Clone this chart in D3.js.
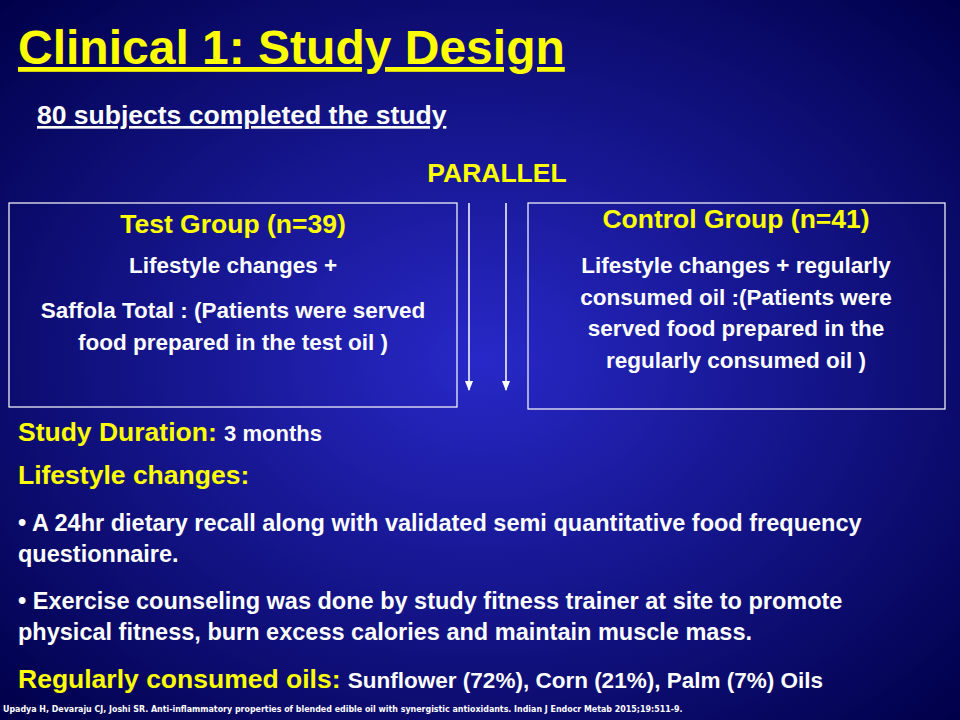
<!DOCTYPE html><html><head><meta charset="utf-8">
<script src="https://cdn.jsdelivr.net/npm/d3@7"></script>
<style>body{margin:0}svg{display:block}</style></head><body>
<script>
const title = "Clinical 1: Study Design";
const subtitle = "80 subjects completed the study";
const groups = [
  {name:"Test Group (n=39)", lines:[["Lifestyle changes +"],["Saffola Total : (Patients were served","food prepared in the test oil )"]]},
  {name:"Control Group (n=41)", lines:[["Lifestyle changes + regularly","consumed oil :(Patients were","served food prepared in the","regularly consumed oil )"]]}
];
const bullets = [
  ["A 24hr dietary recall along with validated semi quantitative food frequency","questionnaire."],
  ["Exercise counseling was done by study fitness trainer at site to promote","physical fitness, burn excess calories and maintain muscle mass."]
];
const citation = "Upadya H, Devaraju CJ, Joshi SR. Anti-inflammatory properties of blended edible oil with synergistic antioxidants. Indian J Endocr Metab 2015;19:511-9.";

const W=960,H=720,F="Arial, 'Liberation Sans', sans-serif";
const svg=d3.select("body").append("svg").attr("width",W).attr("height",H);
const defs=svg.append("defs");
const g=defs.append("radialGradient").attr("id","bg").attr("cx","50%").attr("cy","50%").attr("r","70%");
g.append("stop").attr("offset","0%").attr("stop-color","#2828c8");
g.append("stop").attr("offset","100%").attr("stop-color","#00004a");
const m=defs.append("marker").attr("id","ah").attr("viewBox","0 0 10 10").attr("refX",9).attr("refY",5)
 .attr("markerWidth",7).attr("markerHeight",7).attr("orient","auto");
m.append("path").attr("d","M0,1L10,5L0,9Z").attr("fill","#fff");
svg.append("rect").attr("width",W).attr("height",H).attr("fill","url(#bg)");
function t(x,y,s,size,col,opt={}){
  const e=svg.append("text").attr("x",x).attr("y",y).text(s).attr("font-family",F).attr("font-size",size)
   .attr("font-weight","bold").attr("fill",col).attr("text-anchor",opt.a||"start");
  if(opt.u)e.attr("text-decoration","underline");return e;}
const HS=26.5, BS=23.5;
t(18,64,title,48,"#ffff00",{u:1});
t(37,124,subtitle,26.5,"#fff",{u:1});
t(497,182,"PARALLEL",26.5,"#ffff00",{a:"middle"});
const boxes=[{x:9,y:203,w:448,h:204,cx:233,ty:233,ly:[273,318]},{x:528,y:203,w:417,h:206,cx:736,ty:228,ly:[273]}];
boxes.forEach((b,i)=>{
  svg.append("rect").attr("x",b.x).attr("y",b.y).attr("width",b.w).attr("height",b.h).attr("fill","none").attr("stroke","#fff").attr("stroke-width",1.2);
  t(b.cx,b.ty,groups[i].name,HS,"#ffff00",{a:"middle"});
  groups[i].lines.forEach((blk,j)=>blk.forEach((l,k)=>t(b.cx,b.ly[j]+k*31.5,l,22.5,"#fff",{a:"middle"})));
});
[469,506].forEach(x=>svg.append("line").attr("x1",x).attr("x2",x).attr("y1",203).attr("y2",390).attr("stroke","#fff").attr("stroke-width",1.5).attr("marker-end","url(#ah)"));
const sd=t(18,441,"Study Duration: ",HS,"#ffff00");sd.append("tspan").attr("fill","#fff").attr("font-size",22).text("3 months");
t(18,484,"Lifestyle changes:",HS,"#ffff00");
bullets.forEach((b,i)=>{const y=[531,609][i];
  t(18,y,"\u2022 "+b[0],BS,"#fff");t(18,y+31,b[1],BS,"#fff");});
const rc=t(18,688,"Regularly consumed oils: ",HS,"#ffff00");rc.append("tspan").attr("fill","#fff").attr("font-size",22.5).text("Sunflower (72%), Corn (21%), Palm (7%) Oils");
t(3,712,citation,8.8,"#fff").attr("font-family","'Liberation Sans Narrow', 'DejaVu Sans Condensed', sans-serif");
</script></body></html>
